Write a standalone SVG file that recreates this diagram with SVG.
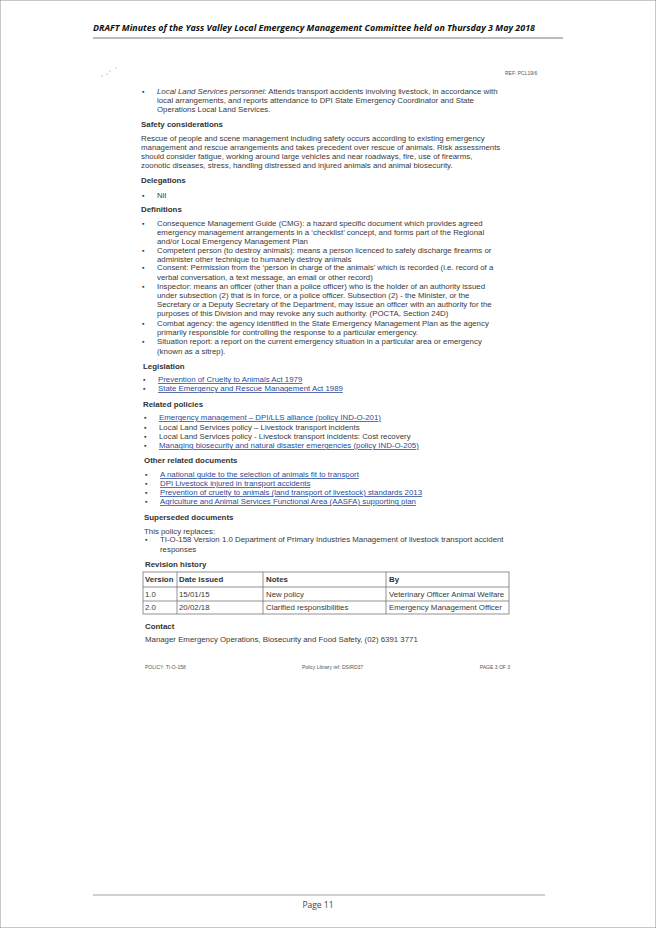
<svg xmlns="http://www.w3.org/2000/svg" width="656" height="928" viewBox="0 0 656 928">
<style>
text{font-family:"Liberation Sans",Arial,sans-serif;fill:#3a3a3a;font-size:7.85px}
.h{font-weight:bold;font-size:7.9px;fill:#333}
.l{fill:#2b4c9b;text-decoration:underline}
.s{font-size:5px;fill:#555}
.b{font-size:7px}
line,rect{stroke:#777;stroke-width:0.8;fill:none}
</style>
<rect x="0" y="0" width="656" height="928" fill="#fff" stroke="none"/>
<text x="93" y="31" style="font-family:'Open Sans',sans-serif;font-weight:bold;font-style:italic;font-size:9.6px;fill:#111" textLength="442" lengthAdjust="spacingAndGlyphs">DRAFT Minutes of the Yass Valley Local Emergency Management Committee held on Thursday 3 May 2018</text>
<line x1="93" y1="38" x2="563" y2="38" style="stroke:#555"/>
<g fill="#888"><circle cx="102" cy="76" r="0.6"/><circle cx="107" cy="74" r="0.6"/><circle cx="110" cy="71" r="0.6"/><circle cx="116" cy="68" r="0.5"/></g>
<text class="s" x="505" y="75">REF: PCL19/6</text>
<g id="content">
<text class="b" x="142" y="94">▪</text>
<text x="157" y="94"><tspan font-style="italic">Local Land Services personnel:</tspan> Attends transport accidents involving livestock, in accordance with</text>
<text x="157" y="103">local arrangements, and reports attendance to DPI State Emergency Coordinator and State</text>
<text x="157" y="112">Operations Local Land Services.</text>
<text class="h" x="141" y="127">Safety considerations</text>
<text x="141" y="141">Rescue of people and scene management including safety occurs according to existing emergency</text>
<text x="141" y="150">management and rescue arrangements and takes precedent over rescue of animals. Risk assessments</text>
<text x="141" y="159">should consider fatigue, working around large vehicles and near roadways, fire, use of firearms,</text>
<text x="141" y="168">zoonotic diseases, stress, handling distressed and injured animals and animal biosecurity.</text>
<text class="h" x="141" y="183">Delegations</text>
<text class="b" x="142" y="198">▪</text><text x="157" y="198">Nil</text>
<text class="h" x="141" y="212">Definitions</text>
<text class="b" x="142" y="226">▪</text>
<text x="157" y="226">Consequence Management Guide (CMG): a hazard specific document which provides agreed</text>
<text x="157" y="235">emergency management arrangements in a ‘checklist’ concept, and forms part of the Regional</text>
<text x="157" y="244">and/or Local Emergency Management Plan</text>
<text class="b" x="142" y="253">▪</text>
<text x="157" y="253">Competent person (to destroy animals): means a person licenced to safely discharge firearms or</text>
<text x="157" y="262">administer other technique to humanely destroy animals</text>
<text class="b" x="142" y="270">▪</text>
<text x="157" y="270">Consent: Permission from the ‘person in charge of the animals’ which is recorded (i.e. record of a</text>
<text x="157" y="280">verbal conversation, a text message, an email or other record)</text>
<text class="b" x="142" y="289">▪</text>
<text x="157" y="289">Inspector: means an officer (other than a police officer) who is the holder of an authority issued</text>
<text x="157" y="298">under subsection (2) that is in force, or a police officer. Subsection (2) - the Minister, or the</text>
<text x="157" y="307">Secretary or a Deputy Secretary of the Department, may issue an officer with an authority for the</text>
<text x="157" y="316">purposes of this Division and may revoke any such authority. (POCTA, Section 24D)</text>
<text class="b" x="142" y="326">▪</text>
<text x="157" y="326">Combat agency: the agency identified in the State Emergency Management Plan as the agency</text>
<text x="157" y="335">primarily responsible for controlling the response to a particular emergency.</text>
<text class="b" x="142" y="344">▪</text>
<text x="157" y="344">Situation report: a report on the current emergency situation in a particular area or emergency</text>
<text x="157" y="354">(known as a sitrep).</text>
<text class="h" x="143" y="369">Legislation</text>
<text class="b" x="143" y="382">▪</text><text class="l" x="158" y="382">Prevention of Cruelty to Animals Act 1979</text>
<text class="b" x="143" y="391">▪</text><text class="l" x="158" y="391">State Emergency and Rescue Management Act 1989</text>
<text class="h" x="143" y="407">Related policies</text>
<text class="b" x="144" y="420">▪</text><text class="l" x="159" y="420">Emergency management – DPI/LLS alliance (policy IND-O-201)</text>
<text class="b" x="144" y="430">▪</text><text x="159" y="430">Local Land Services policy – Livestock transport incidents</text>
<text class="b" x="144" y="439">▪</text><text x="159" y="439">Local Land Services policy - Livestock transport incidents: Cost recovery</text>
<text class="b" x="144" y="448">▪</text><text class="l" x="159" y="448">Managing biosecurity and natural disaster emergencies (policy IND-O-205)</text>
<text class="h" x="144" y="463">Other related documents</text>
<text class="b" x="145" y="477">▪</text><text class="l" x="160" y="477">A national guide to the selection of animals fit to transport</text>
<text class="b" x="145" y="486">▪</text><text class="l" x="160" y="486">DPI Livestock injured in transport accidents</text>
<text class="b" x="145" y="495">▪</text><text class="l" x="160" y="495">Prevention of cruelty to animals (land transport of livestock) standards 2013</text>
<text class="b" x="145" y="504">▪</text><text class="l" x="160" y="504">Agriculture and Animal Services Functional Area (AASFA) supporting plan</text>
<text class="h" x="144" y="520">Superseded documents</text>
<text x="144" y="534">This policy replaces:</text>
<text class="b" x="145" y="542">▪</text>
<text x="160" y="542">TI-O-158 Version 1.0 Department of Primary Industries Management of livestock transport accident</text>
<text x="160" y="552">responses</text>
<text class="h" x="145" y="567">Revision history</text>
</g>
<g id="table">
<rect x="143" y="572" width="366" height="42"/>
<line x1="143" y1="587" x2="509" y2="587"/>
<line x1="143" y1="601" x2="509" y2="601"/>
<line x1="177" y1="572" x2="177" y2="614"/>
<line x1="263" y1="572" x2="263" y2="614"/>
<line x1="386" y1="572" x2="386" y2="614"/>
<text class="h" x="145" y="582">Version</text><text class="h" x="179" y="582">Date issued</text><text class="h" x="266" y="582">Notes</text><text class="h" x="389" y="582">By</text>
<text x="145" y="597">1.0</text><text x="179" y="597">15/01/15</text><text x="266" y="597">New policy</text><text x="389" y="597">Veterinary Officer Animal Welfare</text>
<text x="145" y="610">2.0</text><text x="179" y="610">20/02/18</text><text x="266" y="610">Clarified responsibilities</text><text x="389" y="610">Emergency Management Officer</text>
</g>
<text class="h" x="145" y="629">Contact</text>
<text x="145" y="642">Manager Emergency Operations, Biosecurity and Food Safety, (02) 6391 3771</text>
<text class="s" x="145" y="669">POLICY: TI-O-158</text>
<text class="s" x="302" y="669">Policy Library ref: DSIRD37</text>
<text class="s" x="510" y="669" text-anchor="end">PAGE 3 OF 3</text>
<line x1="93" y1="895" x2="545" y2="895" style="stroke:#888"/>
<text x="318" y="908" text-anchor="middle" style="font-family:'Open Sans',sans-serif;font-size:8.5px;fill:#444">Page 11</text>
</svg>
